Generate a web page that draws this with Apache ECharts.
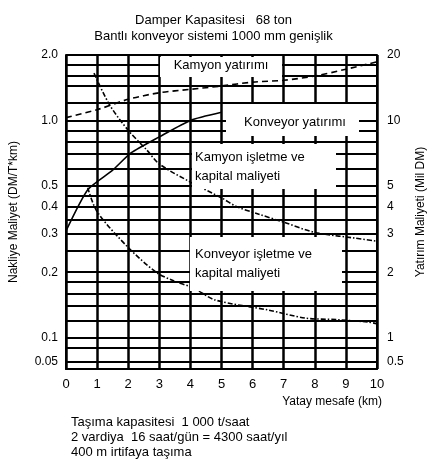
<!DOCTYPE html>
<html><head><meta charset="utf-8">
<script src="https://cdn.jsdelivr.net/npm/echarts@6/dist/echarts.min.js"></script>
<style>html,body{margin:0;padding:0;background:#fff}#c{width:427px;height:469px}</style>
</head><body><div id="c"></div>
<script>
// ---- data ----
const xTicks = [0,1,2,3,4,5,6,7,8,9,10];
const leftTickValues = [2, 1, 0.5, 0.4, 0.3, 0.2, 0.1, 0.05];
const leftTickLabels = ['2.0','1.0','0.5','0.4','0.3','0.2','0.1','0.05'];
const rightTickValues = [20, 10, 5, 4, 3, 2, 1, 0.5];
const rightTickLabels = ['20','10','5','4','3','2','1','0.5'];
const gridLineValues = [2, 1.8, 1.6, 1.45, 1.2, 1, 0.9, 0.8, 0.7, 0.6, 0.5, 0.45, 0.4, 0.35, 0.3, 0.25, 0.2, 0.18, 0.16, 0.14, 0.12, 0.1, 0.09, 0.05];

// Kamyon yatırımı (Mil DM, right axis)
const kamyonYatirimiKm = [0,1,2,3,4,5,6,7,8,9,10];
const kamyonYatirimi   = [10.3,11.2,12.5,13.4,13.9,14.4,15.0,15.3,16.0,17.2,18.6];
// Konveyor yatırımı (Mil DM, right axis)
const konveyorYatirimiKm = [0,0.7,1.5,2.1,3,4,5];
const konveyorYatirimi   = [3.1,4.8,5.9,7.1,8.4,10.0,10.9];
// Kamyon işletme ve kapital maliyeti (DM/T*km, left axis)
const kamyonIsletmeKm = [0.9,1.4,2,2.6,3,4,5,5.5,6.2,7,8,9.3,10];
const kamyonIsletme   = [1.65,1.18,0.9,0.73,0.63,0.52,0.44,0.40,0.37,0.34,0.305,0.287,0.278];
// Konveyor işletme ve kapital maliyeti (DM/T*km, left axis)
const konveyorIsletmeKm = [0.7,1.0,2.0,2.9,3.4,4.1,4.8,6.5,7.7,8.7,9.7,10];
const konveyorIsletme   = [0.49,0.38,0.26,0.20,0.184,0.169,0.149,0.134,0.123,0.121,0.118,0.116];

const titleLines = ['Damper Kapasitesi   68 ton', 'Bantlı konveyor sistemi 1000 mm genişlik'];
const footLines = ['Taşıma kapasitesi  1 000 t/saat', '2 vardiya  16 saat/gün = 4300 saat/yıl', '400 m irtifaya taşıma'];

const zip = (xs, ys) => xs.map((x, i) => [x, ys[i]]);
const pick = (vals, labs) => v => { const i = vals.findIndex(t => Math.abs(t - v) / t < 0.01); return i >= 0 ? labs[i] : ''; };
const FONT = 'Liberation Sans';
const box = (x, y, w, h) => ({ type: 'rect', z: 10, shape: { x, y, width: w, height: h }, style: { fill: '#fff' } });
const txt = (t, x, y, align) => ({ type: 'text', z: 11, x, y, style: { text: t, font: '13px ' + FONT, fill: '#000', align: align || 'left', verticalAlign: 'middle' } });

const chart = echarts.init(document.getElementById('c'));
chart.setOption({
  animation: false,
  backgroundColor: '#fff',
  textStyle: { fontFamily: FONT, color: '#000' },
  title: {
    text: titleLines.join('\n'), left: 'center', top: 7,
    textStyle: { fontFamily: FONT, fontSize: 13, fontWeight: 'normal', color: '#000', lineHeight: 16 }
  },
  grid: { left: 66, top: 55, width: 311, height: 314, containLabel: false, outerBoundsMode: 'none' },
  xAxis: {
    type: 'value', min: 0, max: 10, interval: 1,
    name: 'Yatay mesafe (km)', nameLocation: 'end', nameGap: 5,
    nameTextStyle: { fontFamily: FONT, fontSize: 12, color: '#000', align: 'right', verticalAlign: 'top', padding: [27, 0, 0, 0] },
    axisLine: { lineStyle: { color: '#000', width: 2 } },
    axisTick: { show: false },
    axisLabel: { fontFamily: FONT, fontSize: 13, color: '#000', margin: 9 },
    splitLine: { show: true, lineStyle: { color: '#000', width: 2.5 } }
  },
  yAxis: [{
    type: 'log', min: 0.0464, max: 2, position: 'left',
    breaks: [{ start: 0.055, end: 0.085, gap: 0 }],
    breakArea: { show: false, zigzagAmplitude: 0, itemStyle: { opacity: 0, borderWidth: 0 } },
    name: 'Nakliye Maliyet (DM/T*km)', nameLocation: 'middle', nameGap: 46, nameRotate: 90,
    nameTextStyle: { fontFamily: FONT, fontSize: 12, color: '#000' },
    axisLine: { show: true, lineStyle: { color: '#000', width: 2 } },
    axisTick: { show: false, customValues: gridLineValues },
    axisLabel: { customValues: leftTickValues, formatter: pick(leftTickValues, leftTickLabels), fontFamily: FONT, fontSize: 12, color: '#000', margin: 8 },
    splitLine: { show: true, lineStyle: { color: '#000', width: 2 } },
    minorSplitLine: { show: false }
  }, {
    type: 'log', min: 0.464, max: 20, position: 'right',
    breaks: [{ start: 0.55, end: 0.85, gap: 0 }],
    breakArea: { show: false, zigzagAmplitude: 0, itemStyle: { opacity: 0, borderWidth: 0 } },
    name: 'Yatırım Maliyeti (Mil DM)', nameLocation: 'middle', nameGap: 37, nameRotate: 90,
    nameTextStyle: { fontFamily: FONT, fontSize: 12, color: '#000' },
    axisLine: { show: true, lineStyle: { color: '#000', width: 2 } },
    axisTick: { show: false },
    axisLabel: { customValues: rightTickValues, formatter: pick(rightTickValues, rightTickLabels), fontFamily: FONT, fontSize: 12, color: '#000', margin: 10 },
    splitLine: { show: false }
  }],
  series: [
    { name: 'Kamyon yatırımı', type: 'line', yAxisIndex: 1, data: zip(kamyonYatirimiKm, kamyonYatirimi), smooth: 0.3, symbol: 'none', z: 5,
      lineStyle: { color: '#000', width: 1.6, type: [6, 4] } },
    { name: 'Konveyor yatırımı', type: 'line', yAxisIndex: 1, data: zip(konveyorYatirimiKm, konveyorYatirimi), smooth: 0.2, symbol: 'none', z: 5,
      lineStyle: { color: '#000', width: 1.6 } },
    { name: 'Kamyon işletme ve kapital maliyeti', type: 'line', yAxisIndex: 0, data: zip(kamyonIsletmeKm, kamyonIsletme), smooth: 0.3, symbol: 'none', z: 5,
      lineStyle: { color: '#000', width: 1.6, type: [5, 2, 1.5, 2] } },
    { name: 'Konveyor işletme ve kapital maliyeti', type: 'line', yAxisIndex: 0, data: zip(konveyorIsletmeKm, konveyorIsletme), smooth: 0.3, symbol: 'none', z: 5,
      lineStyle: { color: '#000', width: 1.6, type: [5, 2, 1.5, 2] } }
  ],
  graphic: [
    box(160, 57, 122, 20), txt('Kamyon yatırımı', 221, 65, 'center'),
    box(226, 104, 133, 32), txt('Konveyor yatırımı', 295, 122, 'center'),
    box(192, 144, 144, 45), txt('Kamyon işletme ve', 195, 157), txt('kapital maliyeti', 195, 176),
    box(190, 237, 152, 54), txt('Konveyor işletme ve', 195, 254), txt('kapital maliyeti', 195, 273),
    ...footLines.map((t, i) => txt(t, 71, 422 + i * 15))
  ]
});
</script>
</body></html>
